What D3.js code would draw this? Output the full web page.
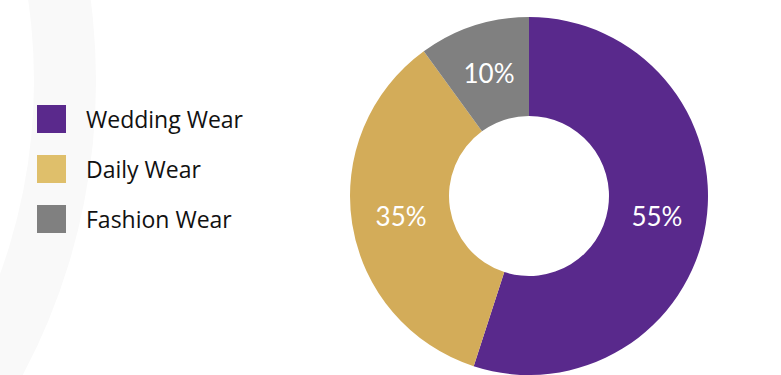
<!DOCTYPE html>
<html>
<head>
<meta charset="utf-8">
<script src="https://cdn.jsdelivr.net/npm/d3@7"></script>
<style>
  html, body { margin: 0; padding: 0; background: #ffffff; }
  svg { display: block; }
</style>
</head>
<body>
<svg id="chart" width="781" height="375"></svg>
<script>
// Market share by wear segment
const categories = ["Wedding Wear", "Daily Wear", "Fashion Wear"];
const shares = [55, 35, 10];
const sliceColors = ["#59298C", "#D3AC59", "#808080"];
const legendColors = ["#5A298C", "#DFBF6B", "#808080"];

const svg = d3.select("#chart");

// soft decorative band in the background
svg.append("path")
  .attr("transform", "translate(-531,81)")
  .attr("d", d3.arc()({ innerRadius: 565, outerRadius: 627, startAngle: 0, endAngle: 2 * Math.PI }))
  .attr("fill", "#F9F9F9");

// donut
const cx = 529, cy = 196, rOuter = 179, rInner = 80;
const data = categories.map((c, i) => ({ name: c, value: shares[i], color: sliceColors[i] }));
const pie = d3.pie().value(d => d.value).sort(null);
const arc = d3.arc().innerRadius(rInner).outerRadius(rOuter);

const g = svg.append("g").attr("transform", `translate(${cx},${cy})`);
const arcs = pie(data);

g.selectAll("path.slice")
  .data(arcs)
  .join("path")
  .attr("class", "slice")
  .attr("d", arc)
  .attr("fill", d => d.data.color);

g.selectAll("text.pct")
  .data(arcs)
  .join("text")
  .attr("class", "pct")
  .attr("transform", d => { const [x, y] = arc.centroid(d); return `translate(${x},${y})`; })
  .attr("text-anchor", "middle")
  .attr("dy", "0.38em")
  .attr("fill", "#ffffff")
  .attr("font-family", "Lato, 'Open Sans', sans-serif")
  .attr("font-size", 26)
  .text(d => d.data.value + "%");

// legend
const legendY = d3.scalePoint().domain(categories).range([105, 205]);
const legend = svg.append("g");
const item = legend.selectAll("g.item")
  .data(categories)
  .join("g")
  .attr("class", "item")
  .attr("transform", d => `translate(37,${legendY(d)})`);

item.append("rect")
  .attr("width", 29)
  .attr("height", 28)
  .attr("fill", (d, i) => legendColors[i]);

item.append("text")
  .attr("x", 49)
  .attr("y", 22.5)
  .attr("fill", "#111111")
  .attr("font-family", "'Open Sans', sans-serif")
  .attr("font-size", 23)
  .text(d => d);
</script>
</body>
</html>
